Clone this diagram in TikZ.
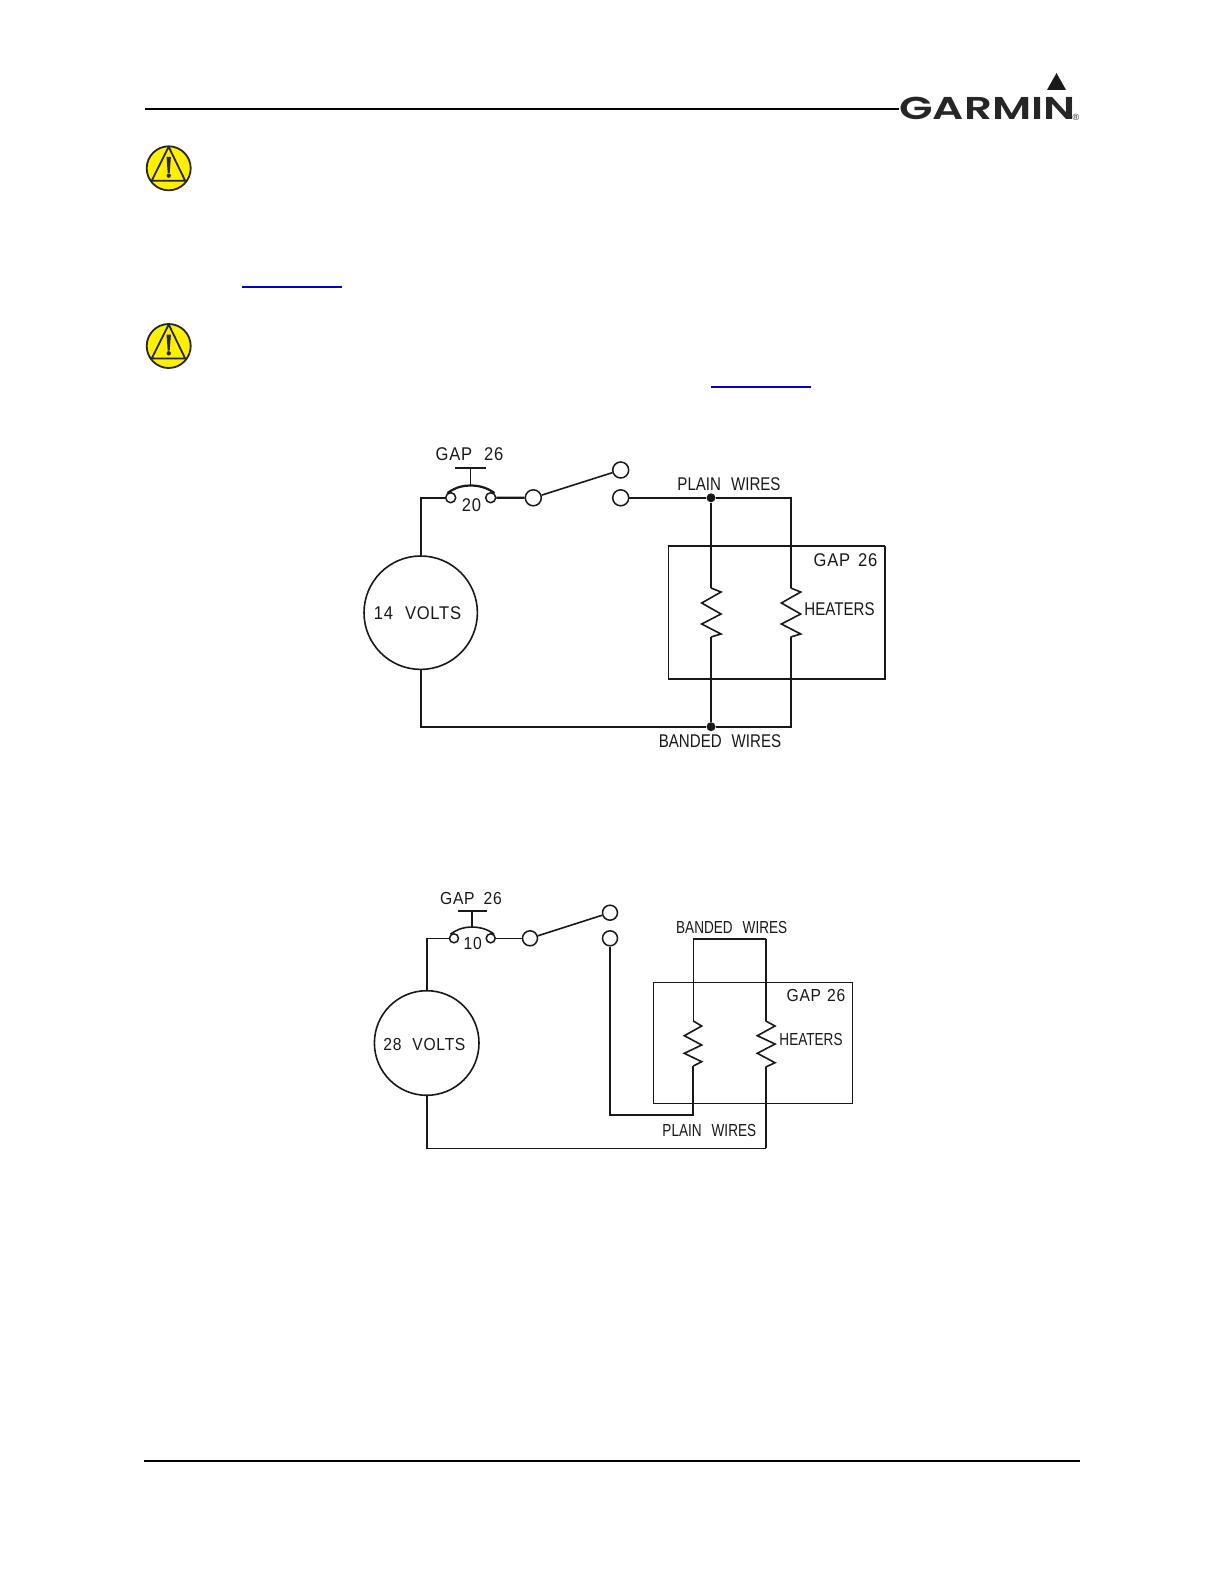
\documentclass[tikz,border=0pt]{standalone}
\usepackage{fontspec}
\setmainfont{Liberation Sans}
\newfontfamily\logofont[FakeStretch=1.38]{Poppins SemiBold}
\newfontfamily\labfont[FakeStretch=0.82]{Liberation Sans}
\newfontfamily\labsfont[FakeStretch=0.78]{Liberation Sans}
\newfontfamily\digfont[FakeStretch=0.9,LetterSpace=4]{Liberation Sans}
\newcommand{\dg}[1]{{\digfont #1}}
\definecolor{warnyellow}{RGB}{255,240,0}
\definecolor{linkblue}{RGB}{0,0,205}
\definecolor{inkcol}{RGB}{25,25,25}
\tikzset{
  wire/.style={draw=inkcol,line width=1.1pt,line join=miter},
  thinwire/.style={draw=inkcol,line width=0.8pt},
  rulel/.style={draw=black,line width=1pt},
  lab/.style={inner sep=0pt,text=inkcol,font=\labfont\fontsize{9.2}{10}\selectfont},
  labs/.style={inner sep=0pt,text=inkcol,font=\labsfont\fontsize{8.7}{10}\selectfont},
  contact/.style={circle,draw=inkcol,line width=0.75pt,inner sep=0pt,minimum size=#1,fill=white},
  source/.style={circle,draw=inkcol,line width=0.8pt,inner sep=0pt,minimum size=#1},
  junction/.style={circle,fill=inkcol,inner sep=0pt,minimum size=4.5pt},
  warnbg/.style={circle,draw=black!85,fill=warnyellow,line width=0.9pt,inner sep=0pt,minimum size=22pt},
}
\newcommand{\warnicon}[3]{%
  \node[warnbg] (#3) at (#1,#2) {};
  \draw[black!85,line width=0.9pt,line join=round] (#1,#2-21.5) -- (#1-17,#2+12.5) -- (#1+16.5,#2+12.5) -- cycle;
  \fill[black!85] (#1-2.2,#2-11.5) -- (#1+2.2,#2-11.5) -- (#1+1,#2+4.5) -- (#1-1,#2+4.5) -- cycle;
  \fill[black!85] (#1,#2+7.3) circle (1.1pt);
}
\begin{document}
\begin{tikzpicture}[x=0.5pt,y=-0.5pt]
\useasboundingbox (0,0) rectangle (1224,1584);
\fill[white] (0,0) rectangle (1224,1584);
% page furniture
\coordinate (hl) at (145,109.3); \coordinate (hr) at (899,109.3);
\draw[rulel] (hl) -- (hr);
\coordinate (fl) at (144,1460.5); \coordinate (fr) at (1080,1460.5);
\draw[rulel] (fl) -- (fr);
\fill[black!90] (1056.5,73) -- (1066,90) -- (1047,90) -- cycle;
\node[inner sep=0pt,text=black!85,anchor=center,font=\logofont\fontsize{15.8}{16}\selectfont] (logo) at (987.5,108.7) {GARMIN};
\node[inner sep=0pt,text=black!85,font=\fontsize{4.5}{5}\selectfont] (reg) at (1076,117.5) {®};
\warnicon{168.7}{168.3}{warnA}
\warnicon{168.7}{346}{warnB}
\coordinate (linkAl) at (242,287); \coordinate (linkAr) at (342,287);
\draw[linkblue,line width=1pt] (linkAl) -- (linkAr);
\coordinate (linkBl) at (711,386.7); \coordinate (linkBr) at (811,386.7);
\draw[linkblue,line width=1pt] (linkBl) -- (linkBr);

% ---------- 14 volt circuit
\node[source=56.7pt] (srcA) at (420.7,612.7) {};
\node[lab] (srcAt) at (417.5,613) {\dg{14}\hspace{6pt}\dg{VOLTS}};
\node[contact=5pt] (cbAl) at (450.7,497.7) {};
\node[contact=5pt] (cbAr) at (490.7,497.7) {};
\node[contact=8pt] (swAc) at (533.3,497.8) {};
\node[contact=8pt] (swAu) at (620.7,470) {};
\node[contact=8pt] (swAd) at (620.7,497.8) {};
\coordinate (cornerA) at (srcA.north |- cbAl);
\draw[wire] (srcA.north) -- (cornerA) -- (cbAl.west);
\draw[wire] (cbAr.east) -- (swAc.west);
\draw[thinwire] (swAc) -- (swAu);
\coordinate (barAl) at (455,468); \coordinate (barAr) at (486,468);
\coordinate (barAm) at (470.3,468); \coordinate (arcAt) at (470.3,485.5);
\draw[wire] (barAl) -- (barAr);
\draw[thinwire] (barAm) -- (arcAt);
\draw[wire] (447.5,493) .. controls (456,487) and (463,485.5) .. (arcAt) .. controls (478,485.5) and (486,487) .. (494.5,493);
\node[lab] (gapA) at (469.5,454.5) {\dg{GAP}\hspace{6pt}\dg{26}};
\node[lab] (cbAt) at (471.5,505) {\dg{20}};
\node[lab] (plainA) at (729,484) {PLAIN\hspace{5pt}WIRES};
\node[lab] (bandA) at (720,741.5) {BANDED\hspace{5pt}WIRES};
\node[lab] (gapAb) at (845.5,560.5) {\dg{GAP}\hspace{4pt}\dg{26}};
\node[lab] (heatA) at (839.5,609) {HEATERS};
\node[junction] (jAt) at (711,497.8) {};
\node[junction] (jAb) at (711,726.7) {};
\coordinate (rAt) at (790.7,497.8);
\coordinate (rAb) at (790.7,726.7);
\coordinate (cornerAb) at (srcA.south |- jAb);
\draw[wire] (swAd.east) -- (jAt) -- (rAt) -- (790.7,588);
\draw[wire] (srcA.south) -- (cornerAb) -- (jAb) -- (rAb) -- (790.7,637);
\draw[wire] (jAt) -- (711,588);
\draw[wire] (jAb) -- (711,637);
\draw[thinwire,line join=miter] (711,588) -- (721,592) -- (701.7,603) -- (721,614) -- (701.7,624) -- (721,634) -- (711,637);
\draw[thinwire,line join=miter] (790.7,588) -- (800.7,592) -- (781.4,603) -- (800.7,614) -- (781.4,624) -- (800.7,634) -- (790.7,637);
\draw[thinwire] (668.3,678.7) -- (668.3,546) -- (885,546);
\draw[wire] (885,546) -- (885,678.7) -- (668.3,678.7);

% ---------- 28 volt circuit
\node[source=52.3pt] (srcB) at (426.7,1043) {};
\node[labs] (srcBt) at (424.4,1044) {\dg{28}\hspace{5.5pt}\dg{VOLTS}};
\node[contact=4.5pt] (cbBl) at (454,938.3) {};
\node[contact=4.5pt] (cbBr) at (490.7,938.3) {};
\node[contact=7.5pt] (swBc) at (530,938.3) {};
\node[contact=7.5pt] (swBu) at (610,912.7) {};
\node[contact=7.5pt] (swBd) at (610,938.3) {};
\coordinate (cornerB) at (srcB.north |- cbBl);
\draw[thinwire] (srcB.north) -- (cornerB) -- (cbBl.west);
\draw[thinwire] (cbBr.east) -- (swBc.west);
\draw[thinwire] (swBc) -- (swBu);
\coordinate (barBl) at (458.3,911); \coordinate (barBr) at (486.7,911);
\coordinate (barBm) at (471.7,911); \coordinate (arcBt) at (471.7,927);
\draw[wire] (barBl) -- (barBr);
\draw[wire] (barBm) -- (arcBt);
\draw[thinwire] (450.5,934) .. controls (458,929) and (464,927) .. (arcBt) .. controls (480,927) and (487,929) .. (494,934);
\node[labs] (gapB) at (471,898) {\dg{GAP}\hspace{4.5pt}\dg{26}};
\node[labs] (cbBt) at (472.7,943.5) {\dg{10}};
\node[labs] (bandB) at (731.7,927) {BANDED\hspace{5pt}WIRES};
\node[labs] (gapBb) at (816,995.5) {\dg{GAP}\hspace{3pt}\dg{26}};
\node[labs] (heatB) at (811,1039) {HEATERS};
\node[labs] (plainB) at (709.3,1130) {PLAIN\hspace{5pt}WIRES};
\coordinate (lB) at (610,1115);
\coordinate (rBl) at (693.3,1115);
\coordinate (tBl) at (693.3,938.7);
\coordinate (tBr) at (765.7,938.7);
\coordinate (bBr) at (765.7,1148.3);
\coordinate (cornerBb) at (srcB.south |- bBr);
\draw[wire] (swBd.south) -- (lB) -- (rBl) -- (693.3,1066);
\draw[thinwire] (693.3,1021) -- (tBl) -- (tBr);
\draw[wire] (tBr) -- (765.7,1021);
\draw[thinwire] (srcB.south) -- (cornerBb) -- (bBr);
\draw[wire] (bBr) -- (765.7,1067);
\draw[thinwire,line join=miter] (693.3,1021) -- (701.7,1026) -- (684.3,1035.7) -- (701.7,1045) -- (684.3,1053.3) -- (701.7,1061.7) -- (693.3,1066);
\draw[thinwire,line join=miter] (765.7,1021) -- (775,1026) -- (757.3,1035.7) -- (775,1044) -- (757.3,1053.3) -- (775,1062.7) -- (765.7,1067);
\draw[draw=inkcol,line width=0.7pt] (653.3,982.3) rectangle (852.3,1103.7);
\end{tikzpicture}
\end{document}
